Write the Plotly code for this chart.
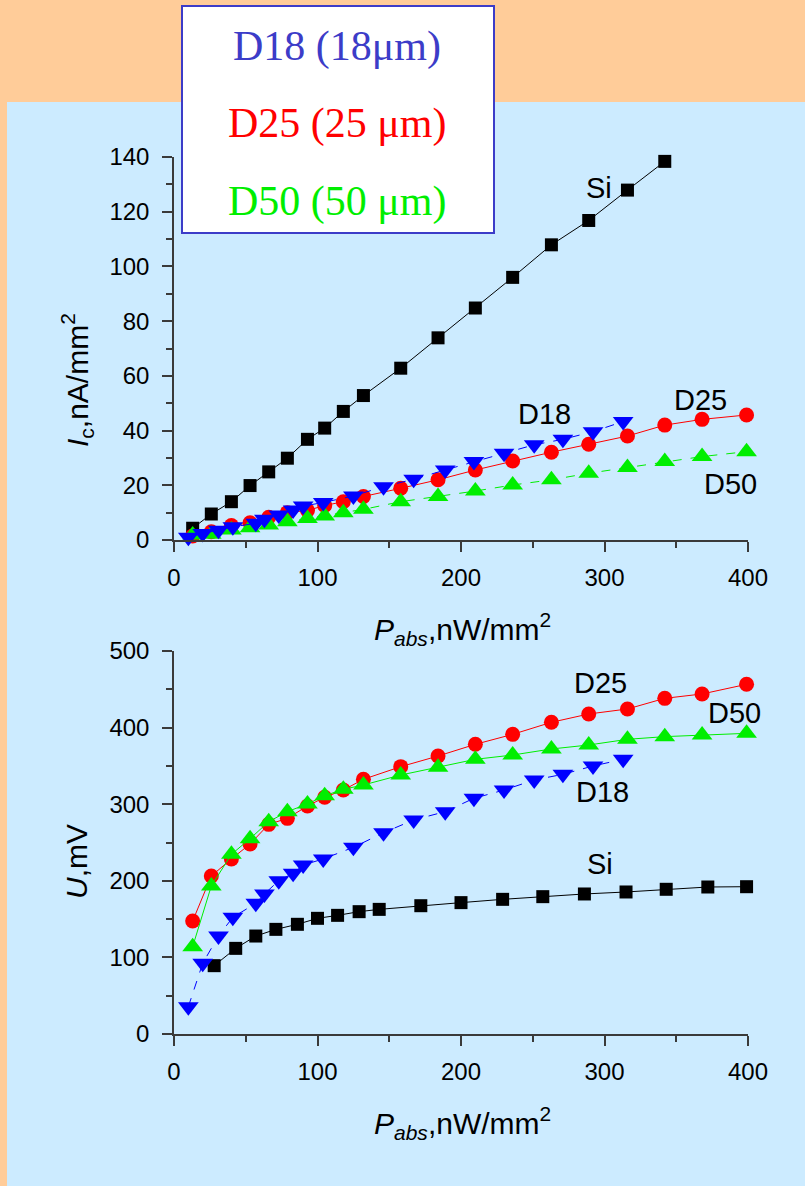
import plotly.graph_objects as go

# ---------------- data ----------------
# Top panel: photocurrent Ic (nA/mm^2) vs absorbed power (nW/mm^2)
si_top_x = [13, 26, 40, 53, 66, 79, 93, 105, 118, 132, 158, 184, 210, 236, 263, 289, 316, 342]
si_top_y = [4.3, 9.5, 14.0, 19.9, 24.9, 29.9, 36.8, 40.9, 47.0, 52.8, 62.8, 73.9, 84.8, 96.0, 107.9, 116.8, 127.9, 138.4]

d25_x = [13, 26, 40, 53, 66, 79, 93, 105, 118, 132, 158, 184, 210, 236, 263, 289, 316, 342, 368, 399]
d25_top_y = [1.5, 3.0, 5.3, 6.3, 8.3, 10.0, 10.8, 12.6, 14.0, 15.9, 18.9, 22.0, 25.6, 28.9, 32.1, 35.0, 38.0, 42.0, 44.1, 45.7]

d50_x = [13, 26, 40, 53, 66, 79, 93, 105, 118, 132, 158, 184, 210, 236, 263, 289, 316, 342, 368, 399]
d50_top_y = [1.8, 2.1, 3.7, 4.5, 5.5, 6.7, 7.9, 8.8, 10.0, 11.2, 14.0, 15.9, 17.9, 20.1, 22.0, 24.4, 26.5, 28.7, 30.5, 32.3]

d18_x = [10, 20, 31, 41, 57, 63, 73, 83, 90, 104, 125, 146, 167, 189, 209, 230, 251, 271, 292, 313]
d18_top_y = [1.0, 2.4, 3.6, 4.8, 6.1, 7.6, 9.1, 11.0, 12.4, 13.7, 16.1, 19.5, 22.2, 25.6, 28.7, 31.7, 34.8, 36.8, 39.6, 43.3]

# Bottom panel: voltage U (mV) vs absorbed power
si_bot_x = [28, 43, 57, 71, 86, 100, 114, 129, 143, 172, 200, 229, 257, 286, 315, 343, 372, 399]
si_bot_y = [89.2, 111.8, 127.9, 136.6, 143.2, 151.0, 154.9, 159.7, 162.7, 167.5, 171.5, 175.8, 179.3, 182.8, 185.4, 188.9, 191.9, 192.3]
d25_bot_y = [147.5, 206.3, 228.5, 248.0, 273.7, 281.5, 297.7, 309.0, 318.5, 332.5, 349.0, 362.9, 378.2, 391.2, 406.9, 417.8, 424.3, 438.2, 443.9, 456.5]
d50_bot_y = [114.0, 193.2, 234.5, 255.0, 277.2, 290.3, 300.3, 311.1, 319.4, 325.1, 338.1, 348.1, 358.6, 364.2, 372.1, 377.3, 384.7, 388.2, 390.3, 392.5]
d18_bot_y = [35.7, 92.3, 128.0, 152.3, 170.6, 182.8, 200.2, 209.7, 220.6, 228.5, 243.7, 262.8, 279.4, 290.3, 307.7, 318.5, 331.6, 339.0, 349.9, 358.6]

legend_lines = ["D18 (18μm)", "D25 (25 μm)", "D50 (50 μm)"]
x_ticks = [0, 100, 200, 300, 400]
top_y_ticks = [0, 20, 40, 60, 80, 100, 120, 140]
bot_y_ticks = [0, 100, 200, 300, 400, 500]

# ---------------- styling ----------------
W, H = 805, 1186
BLACK = "#000000"
RED = "#FF0000"
GREEN = "#00EE00"
BLUE = "#0000FF"
AXC = "#3a3a3a"
SANS = "Liberation Sans, Arial, sans-serif"
SERIF = "Liberation Serif, Times New Roman, serif"

def px(x):
    return x / W

def py(y):
    return 1 - y / H

fig = go.Figure()

def add(x, y, xa, ya, color, symbol, size, dash="solid"):
    fig.add_trace(go.Scatter(
        x=x, y=y, xaxis=xa, yaxis=ya, mode="lines+markers",
        line=dict(color=color, width=1, dash=dash),
        marker=dict(symbol=symbol, size=size, color=color, line=dict(width=0)),
        cliponaxis=False, showlegend=False, hoverinfo="skip"))

# top
add(si_top_x, si_top_y, "x", "y", BLACK, "square", 13)
add(d25_x, d25_top_y, "x", "y", RED, "circle", 15)
add(d50_x, d50_top_y, "x", "y", GREEN, "triangle-up", 18, "dash")
add(d18_x, d18_top_y, "x", "y", BLUE, "triangle-down", 18, "dash")
# bottom
add(si_bot_x, si_bot_y, "x2", "y2", BLACK, "square", 13)
add(d25_x, d25_bot_y, "x2", "y2", RED, "circle", 15)
add(d50_x, d50_bot_y, "x2", "y2", GREEN, "triangle-up", 18)
add(d18_x, d18_bot_y, "x2", "y2", BLUE, "triangle-down", 18, "dash")

minor_common = dict(ticks="outside", ticklen=6, tickwidth=1.5, tickcolor=AXC, showgrid=False)
common = dict(
    showline=True, linecolor=AXC, linewidth=1.5,
    ticks="outside", ticklen=10, tickwidth=1.5, tickcolor=AXC,
    showgrid=False, zeroline=False, automargin=False,
    tickfont=dict(family=SANS, size=24, color=BLACK),
)
xdom = [px(174), px(748)]

fig.update_layout(
    width=W, height=H, autosize=False,
    margin=dict(l=0, r=0, t=0, b=0, pad=0),
    paper_bgcolor="#FFCC99",
    plot_bgcolor="rgba(0,0,0,0)",
    xaxis=dict(domain=xdom, range=[0, 400], anchor="y", tickvals=x_ticks,
               ticklabelstandoff=5, minor=dict(dtick=50, **minor_common), **common),
    yaxis=dict(domain=[py(540), py(157)], range=[0, 140], anchor="x", tickvals=top_y_ticks,
               ticklabelstandoff=8, minor=dict(dtick=10, **minor_common), **common),
    xaxis2=dict(domain=xdom, range=[0, 400], anchor="y2", tickvals=x_ticks,
                ticklabelstandoff=5, minor=dict(dtick=50, **minor_common), **common),
    yaxis2=dict(domain=[py(1034), py(651)], range=[0, 500], anchor="x2", tickvals=bot_y_ticks,
                ticklabelstandoff=8, minor=dict(dtick=50, **minor_common), **common),
)

# background panel and legend box
fig.add_shape(type="rect", xref="paper", yref="paper", x0=px(7), x1=1.0, y0=0, y1=py(102),
              fillcolor="#CCEBFF", line=dict(width=0), layer="below")
fig.add_shape(type="rect", xref="paper", yref="paper", x0=px(182), x1=px(494), y0=py(233), y1=py(6),
              fillcolor="#FFFFFF", line=dict(color="#3c3cc8", width=2), layer="above")

leg_colors = ["#3c3cc8", RED, GREEN]
leg_y = [47, 124, 201]
for t, c, yy in zip(legend_lines, leg_colors, leg_y):
    fig.add_annotation(text=t, xref="paper", yref="paper", x=px(337), y=py(yy),
                       xanchor="center", yanchor="middle", showarrow=False,
                       font=dict(family=SERIF, size=42, color=c))

# series labels
lab = dict(showarrow=False, xanchor="center", yanchor="middle",
           font=dict(family=SANS, size=29, color=BLACK))
fig.add_annotation(text="Si", x=296, y=128.7, xref="x", yref="y", **lab)
fig.add_annotation(text="D18", x=258.3, y=46.1, xref="x", yref="y", **lab)
fig.add_annotation(text="D25", x=366.8, y=51.2, xref="x", yref="y", **lab)
fig.add_annotation(text="D50", x=387.8, y=20.5, xref="x", yref="y", **lab)
fig.add_annotation(text="D25", x=297.4, y=458.6, xref="x2", yref="y2", **lab)
fig.add_annotation(text="D50", x=390.5, y=419, xref="x2", yref="y2", **lab)
fig.add_annotation(text="D18", x=298.7, y=316.3, xref="x2", yref="y2", **lab)
fig.add_annotation(text="Si", x=296.9, y=222, xref="x2", yref="y2", **lab)

# axis titles
tfont = dict(family=SANS, size=30, color=BLACK)
xt = "<i>P</i><sub><i>abs</i></sub>,nW/mm<sup>2</sup>"
fig.add_annotation(text=xt, xref="paper", yref="paper", x=px(462), y=py(629),
                   xanchor="center", yanchor="middle", showarrow=False, font=tfont)
fig.add_annotation(text=xt, xref="paper", yref="paper", x=px(462), y=py(1123),
                   xanchor="center", yanchor="middle", showarrow=False, font=tfont)
fig.add_annotation(text="<i>I</i><sub>c</sub>,nA/mm<sup>2</sup>", xref="paper", yref="paper",
                   x=px(77), y=py(380), xanchor="center", yanchor="middle", textangle=-90,
                   showarrow=False, font=tfont)
fig.add_annotation(text="<i>U</i>,mV", xref="paper", yref="paper",
                   x=px(76), y=py(862), xanchor="center", yanchor="middle", textangle=-90,
                   showarrow=False, font=tfont)

post = (
    "document.documentElement.style.margin='0px';"
    "document.body.style.margin='0px';"
    "document.body.style.padding='0px';"
    "document.documentElement.style.overflow='hidden';"
    "document.body.style.overflow='hidden';"
    "var gd=document.getElementById('{plot_id}');"
    "Plotly.relayout(gd,{width:805,height:1186});"
)
fig.write_html("out.html", config={"displayModeBar": False, "responsive": False},
               post_script=post)
